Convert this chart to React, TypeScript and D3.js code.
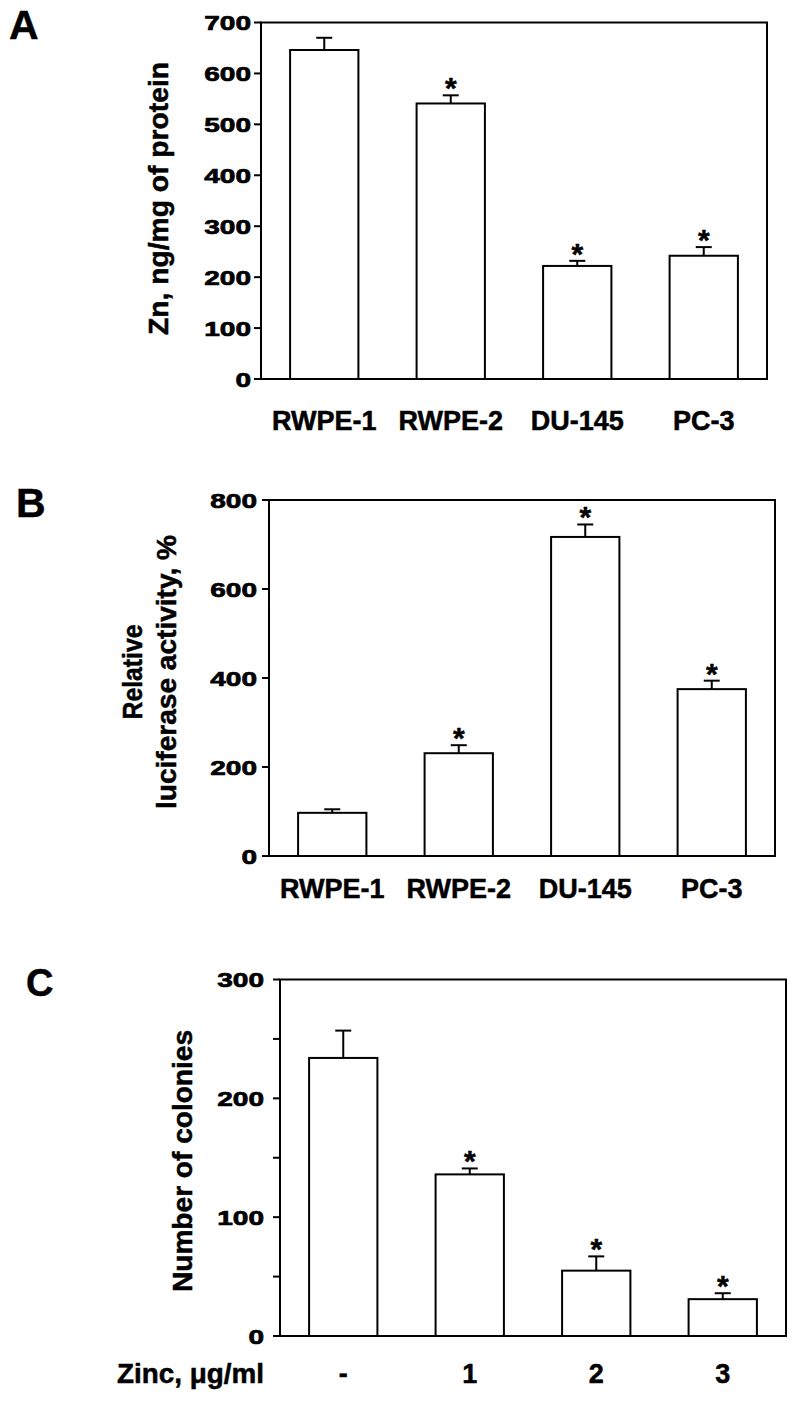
import React from "react";
import * as d3 from "d3";

// ---- Panel A data ----
const cellLines = ["RWPE-1", "RWPE-2", "DU-145", "PC-3"];
const zincContent = [646, 541, 222, 242];
const zincContentErr = [24, 16, 10, 17];
const zincContentSig = [false, true, true, true];
const zincTicks = [0, 100, 200, 300, 400, 500, 600, 700];

// ---- Panel B data ----
const luciferase = [97, 231, 717, 375];
const luciferaseErr = [8, 18, 28, 19];
const luciferaseSig = [false, true, true, true];
const lucTicks = [0, 200, 400, 600, 800];

// ---- Panel C data ----
const zincDoses = ["-", "1", "2", "3"];
const colonies = [234, 136, 55, 31];
const coloniesErr = [23, 5, 12, 5];
const coloniesSig = [false, true, true, true];
const colonyTicks = [0, 100, 200, 300];
const colonyMinorTicks = [50, 150, 250];

const FONT = "'Liberation Sans', Arial, Helvetica, sans-serif";
const TXT = { fontFamily: FONT, fontWeight: "bold" as const, stroke: "#000", strokeWidth: 0.5 };

type PanelProps = {
  letter: string;
  letterX: number;
  letterY: number;
  letterSize: number;
  cats: string[];
  values: number[];
  errs: number[];
  sig: boolean[];
  ticks: number[];
  minorTicks?: number[];
  yMax: number;
  left: number;
  right: number;
  top: number;
  bottom: number;
  labelGap: number;
  xLabelBaseline: number;
  yLabels: { text: string; x: number; len: number }[];
  yLabelCenter: number;
};

function Panel(p: PanelProps) {
  const x = d3
    .scaleBand<string>()
    .domain(p.cats)
    .range([p.left, p.right])
    .paddingInner(0.46)
    .paddingOuter(0.23);
  const y = d3.scaleLinear().domain([0, p.yMax]).range([p.bottom, p.top]);
  const bw = x.bandwidth();
  const tickLen = 7;
  const capW = 16;
  return (
    <g>
      <text x={p.letterX} y={p.letterY} {...TXT} fontSize={p.letterSize}>
        {p.letter}
      </text>
      {/* frame */}
      <rect
        x={p.left}
        y={p.top}
        width={p.right - p.left}
        height={p.bottom - p.top}
        fill="none"
        stroke="#000"
        strokeWidth={2}
      />
      {/* ticks */}
      {p.ticks.map((t) => (
        <g key={"t" + t}>
          <line
            x1={p.left - tickLen}
            x2={p.left}
            y1={y(t)}
            y2={y(t)}
            stroke="#000"
            strokeWidth={2}
          />
          <text
            x={p.left - tickLen - p.labelGap}
            y={y(t) + 7.5}
            textAnchor="end"
            {...TXT}
            strokeWidth={0.7}
            fontSize={21}
            textLength={String(t).length * 15.6}
            lengthAdjust="spacingAndGlyphs"
          >
            {t}
          </text>
        </g>
      ))}
      {(p.minorTicks || []).map((t) => (
        <line
          key={"m" + t}
          x1={p.left - tickLen}
          x2={p.left}
          y1={y(t)}
          y2={y(t)}
          stroke="#000"
          strokeWidth={2}
        />
      ))}
      {/* bars */}
      {p.cats.map((c, i) => {
        const bx = x(c)!;
        const cx = bx + bw / 2;
        const top = y(p.values[i]);
        const errTop = y(p.values[i] + p.errs[i]);
        return (
          <g key={c}>
            <line x1={cx} x2={cx} y1={top} y2={errTop} stroke="#000" strokeWidth={2} />
            <line
              x1={cx - capW / 2}
              x2={cx + capW / 2}
              y1={errTop}
              y2={errTop}
              stroke="#000"
              strokeWidth={2}
            />
            <rect
              x={bx}
              y={top}
              width={bw}
              height={p.bottom - top}
              fill="#fff"
              stroke="#000"
              strokeWidth={2}
            />
            {p.sig[i] && (
              <text x={cx} y={errTop + 3} textAnchor="middle" {...TXT} fontSize={30}>
                *
              </text>
            )}
            <text x={cx} y={p.xLabelBaseline} textAnchor="middle" {...TXT} fontSize={27}>
              {c}
            </text>
          </g>
        );
      })}
      {/* y labels */}
      {p.yLabels.map((l) => (
        <text
          key={l.text}
          transform={`translate(${l.x},${p.yLabelCenter}) rotate(-90)`}
          textAnchor="middle"
          {...TXT}
          fontSize={27}
          textLength={l.len}
          lengthAdjust="spacingAndGlyphs"
        >
          {l.text}
        </text>
      ))}
    </g>
  );
}

export default function App() {
  return (
    <svg
      width={800}
      height={1402}
      style={{ position: "absolute", left: 0, top: 0, background: "#fff" }}
    >
      <rect x={0} y={0} width={800} height={1402} fill="#fff" />
      <Panel
        letter="A"
        letterX={9}
        letterY={39}
        letterSize={41}
        cats={cellLines}
        values={zincContent}
        errs={zincContentErr}
        sig={zincContentSig}
        ticks={zincTicks}
        yMax={700}
        left={261}
        right={767}
        top={22.5}
        bottom={379}
        labelGap={3}
        xLabelBaseline={430}
        yLabels={[{ text: "Zn, ng/mg of protein", x: 167.5, len: 273 }]}
        yLabelCenter={198.5}
      />
      <Panel
        letter="B"
        letterX={16}
        letterY={516.5}
        letterSize={41}
        cats={cellLines}
        values={luciferase}
        errs={luciferaseErr}
        sig={luciferaseSig}
        ticks={lucTicks}
        yMax={800}
        left={269}
        right={775}
        top={500}
        bottom={856}
        labelGap={5}
        xLabelBaseline={898}
        yLabels={[
          { text: "Relative", x: 141.5, len: 95 },
          { text: "luciferase activity, %", x: 176, len: 274 },
        ]}
        yLabelCenter={672}
      />
      <Panel
        letter="C"
        letterX={26}
        letterY={996}
        letterSize={38}
        cats={zincDoses}
        values={colonies}
        errs={coloniesErr}
        sig={coloniesSig}
        ticks={colonyTicks}
        minorTicks={colonyMinorTicks}
        yMax={300}
        left={280}
        right={786}
        top={979.5}
        bottom={1336}
        labelGap={9}
        xLabelBaseline={1383}
        yLabels={[{ text: "Number of colonies", x: 191.5, len: 262 }]}
        yLabelCenter={1161}
      />
      <text
        x={117}
        y={1383}
        {...TXT}
        fontSize={27}
        textLength={147}
        lengthAdjust="spacingAndGlyphs"
      >
        Zinc, μg/ml
      </text>
    </svg>
  );
}
